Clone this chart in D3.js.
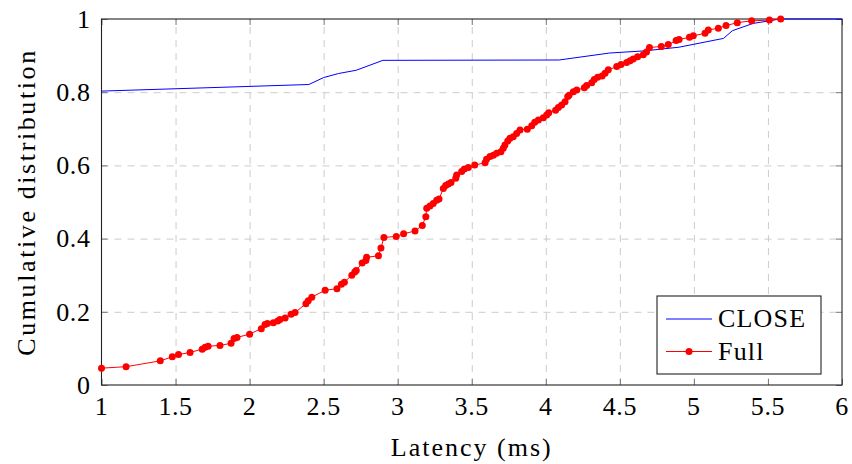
<!DOCTYPE html>
<html>
<head>
<meta charset="utf-8">
<script src="https://cdn.jsdelivr.net/npm/d3@7"></script>
</head>
<body style="margin:0">
<script>
// CDF of latency, CLOSE vs Full
var closeX = [1.00, 2.40, 2.50, 2.60, 2.72, 2.90, 4.09, 4.43, 4.67, 4.90, 5.20, 5.26, 5.40, 5.51, 5.58, 6.00];
var closeY = [0.803, 0.821, 0.840, 0.851, 0.860, 0.887, 0.888, 0.907, 0.913, 0.923, 0.947, 0.968, 0.988, 0.995, 1.000, 1.000];

var fullX = [1.000, 1.166, 1.397, 1.478, 1.520, 1.598, 1.680, 1.700, 1.720, 1.800,
    1.875, 1.895, 1.915, 2.000, 2.079, 2.104, 2.120, 2.160, 2.190, 2.205,
    2.240, 2.280, 2.307, 2.380, 2.396, 2.420, 2.510, 2.590, 2.620, 2.640,
    2.690, 2.710, 2.720, 2.760, 2.785, 2.790, 2.870, 2.887, 2.907, 2.990,
    3.040, 3.117, 3.166, 3.190, 3.196, 3.218, 3.240, 3.263, 3.279, 3.308,
    3.324, 3.342, 3.360, 3.392, 3.398, 3.432, 3.450, 3.477, 3.520, 3.590,
    3.600, 3.623, 3.646, 3.668, 3.697, 3.713, 3.724, 3.743, 3.758, 3.780,
    3.803, 3.826, 3.875, 3.905, 3.925, 3.950, 3.983, 4.006, 4.020, 4.066,
    4.085, 4.107, 4.130, 4.148, 4.157, 4.186, 4.209, 4.260, 4.276, 4.310,
    4.327, 4.350, 4.380, 4.400, 4.422, 4.479, 4.508, 4.546, 4.569, 4.590,
    4.620, 4.658, 4.680, 4.700, 4.780, 4.827, 4.880, 4.900, 4.970, 4.996,
    5.075, 5.097, 5.165, 5.217, 5.293, 5.390, 5.510, 5.586];
var fullY = [0.046, 0.050, 0.066, 0.077, 0.083, 0.089, 0.098, 0.103, 0.106, 0.108,
    0.114, 0.127, 0.130, 0.139, 0.154, 0.165, 0.168, 0.170, 0.175, 0.179,
    0.183, 0.193, 0.198, 0.222, 0.230, 0.240, 0.259, 0.263, 0.275, 0.281,
    0.300, 0.309, 0.313, 0.333, 0.340, 0.349, 0.353, 0.374, 0.403, 0.406,
    0.413, 0.421, 0.436, 0.460, 0.483, 0.489, 0.496, 0.505, 0.508, 0.537,
    0.545, 0.549, 0.553, 0.565, 0.574, 0.583, 0.590, 0.594, 0.601, 0.607,
    0.617, 0.624, 0.628, 0.633, 0.637, 0.647, 0.656, 0.667, 0.674, 0.678,
    0.687, 0.697, 0.699, 0.708, 0.718, 0.724, 0.730, 0.738, 0.744, 0.751,
    0.758, 0.765, 0.774, 0.788, 0.792, 0.801, 0.806, 0.812, 0.818, 0.826,
    0.835, 0.841, 0.844, 0.852, 0.861, 0.870, 0.876, 0.881, 0.886, 0.891,
    0.897, 0.902, 0.910, 0.922, 0.925, 0.930, 0.941, 0.944, 0.950, 0.954,
    0.961, 0.970, 0.975, 0.982, 0.990, 0.995, 0.997, 1.000];

var xTicks = [1, 1.5, 2, 2.5, 3, 3.5, 4, 4.5, 5, 5.5, 6];
var yTicks = [0, 0.2, 0.4, 0.6, 0.8, 1];
var seriesNames = ["CLOSE", "Full"];
var seriesColors = ["#0000ff", "#ff0000"];

var closeData = closeX.map(function (d, i) { return {x: d, y: closeY[i]}; });
var fullData = fullX.map(function (d, i) { return {x: d, y: fullY[i]}; });

var margin = {top: 19, right: 10, bottom: 79, left: 101.5},
    width = 852 - margin.left - margin.right,
    height = 464 - margin.top - margin.bottom;

var x = d3.scaleLinear().domain([1, 6]).range([0, width]);
var y = d3.scaleLinear().domain([0, 1]).range([height, 0]);

var root = d3.select("body").append("svg")
    .attr("width", 852)
    .attr("height", 464);

var svg = root.append("g")
    .attr("transform", "translate(" + margin.left + "," + margin.top + ")");

// plain text nodes, not from d3.axis, so nothing overrides the serif font
function label(parent, txt, spacing) {
    return parent.append("text")
        .style("font-family", "'Times New Roman', serif")
        .style("font-size", "26px")
        .style("letter-spacing", (spacing || 0) + "px")
        .style("fill", "#000")
        .text(txt);
}

// dashed grid
svg.append("g")
    .call(d3.axisBottom(x).tickValues(xTicks.slice(1, -1)).tickSize(-height).tickFormat(""))
    .attr("transform", "translate(0," + height + ")")
    .call(function (g) {
        g.select(".domain").remove();
        g.selectAll("line").attr("stroke", "#cccccc").attr("stroke-dasharray", "7,6");
    });
svg.append("g")
    .call(d3.axisLeft(y).tickValues(yTicks.slice(1, -1)).tickSize(-width).tickFormat(""))
    .call(function (g) {
        g.select(".domain").remove();
        g.selectAll("line").attr("stroke", "#cccccc").attr("stroke-dasharray", "7,6");
    });

// tick marks pointing inward on all four sides
[[d3.axisBottom(x).tickValues(xTicks), "translate(0," + height + ")"],
 [d3.axisTop(x).tickValues(xTicks), "translate(0,0)"],
 [d3.axisLeft(y).tickValues(yTicks), "translate(0,0)"],
 [d3.axisRight(y).tickValues(yTicks), "translate(" + width + ",0)"]].forEach(function (a) {
    svg.append("g")
        .attr("transform", a[1])
        .call(a[0].tickSize(-6).tickFormat(""))
        .call(function (g) {
            g.select(".domain").remove();
            g.selectAll("line").attr("stroke", "#777");
        });
});

// tick labels
var fmt = d3.format("");
xTicks.forEach(function (t) {
    label(svg, fmt(t), 0.6)
        .attr("x", x(t)).attr("y", height + 30)
        .attr("text-anchor", "middle");
});
yTicks.forEach(function (t) {
    label(svg, fmt(t), 0.6)
        .attr("x", -11).attr("y", y(t))
        .attr("dy", "0.34em")
        .attr("text-anchor", "end");
});

// frame
svg.append("rect")
    .attr("width", width).attr("height", height)
    .attr("fill", "none").attr("stroke", "#222").attr("stroke-width", 1.1);

var line = d3.line()
    .x(function (d) { return x(d.x); })
    .y(function (d) { return y(d.y); });

svg.append("path")
    .datum(closeData)
    .attr("fill", "none")
    .attr("stroke", seriesColors[0])
    .attr("stroke-width", 1)
    .attr("d", line);

svg.append("path")
    .datum(fullData)
    .attr("fill", "none")
    .attr("stroke", seriesColors[1])
    .attr("stroke-width", 1)
    .attr("d", line);

svg.selectAll(".dot")
    .data(fullData)
    .enter().append("circle")
    .attr("class", "dot")
    .attr("cx", function (d) { return x(d.x); })
    .attr("cy", function (d) { return y(d.y); })
    .attr("r", 3.5)
    .attr("fill", seriesColors[1]);

// axis titles
label(svg, "Latency (ms)", 2)
    .attr("x", width / 2)
    .attr("y", height + 71)
    .attr("text-anchor", "middle");

label(svg, "Cumulative distribution", 2.6)
    .attr("transform", "translate(" + (35 - margin.left) + "," + (height / 2) + ") rotate(-90)")
    .attr("text-anchor", "middle");

// legend
var legend = svg.append("g")
    .attr("transform", "translate(" + (657 - margin.left) + "," + (296 - margin.top) + ")");
legend.append("rect")
    .attr("width", 164).attr("height", 78)
    .attr("fill", "#fff").attr("stroke", "#222").attr("stroke-width", 1.1);

seriesNames.forEach(function (name, i) {
    var ly = 23 + i * 32.5;
    legend.append("line")
        .attr("x1", 9).attr("x2", 55)
        .attr("y1", ly).attr("y2", ly)
        .attr("stroke", seriesColors[i]).attr("stroke-width", 1);
    if (i === 1) {
        legend.append("circle")
            .attr("cx", 32).attr("cy", ly).attr("r", 3.5)
            .attr("fill", seriesColors[i]);
    }
    label(legend, name, 1.2)
        .attr("x", 61).attr("y", ly + 8);
});
</script>
</body>
</html>
